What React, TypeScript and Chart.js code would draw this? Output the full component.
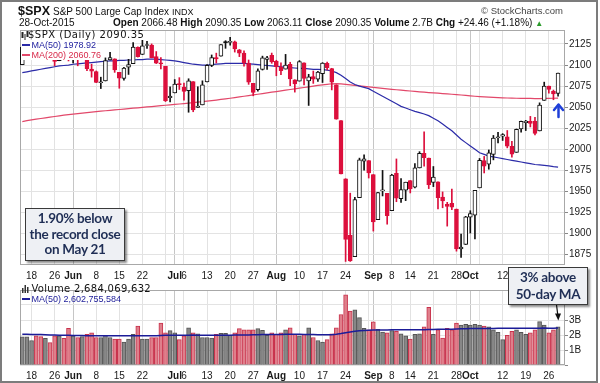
import React, { useEffect, useRef } from 'react';
import { Chart, registerables } from 'chart.js';
Chart.register(...registerables);

const FONT = "'Liberation Sans', Arial, sans-serif";
const VFONT = "'DejaVu Sans', Verdana, sans-serif";

const dates = ['05-14','05-15','05-18','05-19','05-20','05-21','05-22','05-26','05-27','05-28','05-29',
'06-01','06-02','06-03','06-04','06-05','06-08','06-09','06-10','06-11','06-12','06-15','06-16','06-17','06-18','06-19','06-22','06-23','06-24','06-25','06-26','06-29','06-30',
'07-01','07-02','07-06','07-07','07-08','07-09','07-10','07-13','07-14','07-15','07-16','07-17','07-20','07-21','07-22','07-23','07-24','07-27','07-28','07-29','07-30','07-31',
'08-03','08-04','08-05','08-06','08-07','08-10','08-11','08-12','08-13','08-14','08-17','08-18','08-19','08-20','08-21','08-24','08-25','08-26','08-27','08-28','08-31',
'09-01','09-02','09-03','09-04','09-08','09-09','09-10','09-11','09-14','09-15','09-16','09-17','09-18','09-21','09-22','09-23','09-24','09-25','09-28','09-29','09-30',
'10-01','10-02','10-05','10-06','10-07','10-08','10-09','10-12','10-13','10-14','10-15','10-16','10-19','10-20','10-21','10-22','10-23','10-26','10-27','10-28'];

const prevClose = 2098.48;

const opens = [2100.43,2122.07,2121.30,2129.45,2127.79,2125.55,2130.36,2125.34,2105.13,2122.27,2120.66,
2108.64,2110.41,2110.64,2112.35,2095.09,2092.34,2079.07,2081.12,2106.24,2107.43,2091.34,2084.26,2097.40,2101.58,2121.06,2112.50,2123.16,2123.65,2109.96,2102.62,2098.63,2061.19,
2067.00,2078.03,2073.95,2069.52,2080.36,2049.73,2052.74,2080.03,2099.72,2109.01,2110.55,2126.80,2126.85,2127.55,2118.21,2114.16,2102.24,2078.19,2070.75,2094.70,2106.78,2111.60,
2104.49,2097.68,2095.27,2100.75,2082.61,2080.98,2102.66,2081.10,2086.19,2083.15,2089.70,2101.99,2095.69,2076.61,2034.08,1965.15,1898.08,1872.75,1942.77,1986.06,1986.73,
1970.09,1916.52,1950.79,1947.76,1927.30,1971.45,1941.59,1951.45,1963.06,1955.10,1978.02,1995.33,1989.66,1960.84,1961.39,1943.24,1934.81,1935.93,1929.18,1881.90,1887.14,
1919.65,1921.77,1954.33,1986.63,1982.34,1994.01,2013.73,2015.65,2015.00,2003.66,1996.47,2024.37,2031.73,2033.13,2033.47,2021.88,2058.19,2075.08,2068.75,2066.48];

const highs = [2121.45,2123.89,2131.78,2133.02,2134.72,2134.28,2132.15,2125.34,2126.22,2122.27,2120.66,
2119.15,2117.59,2121.92,2112.89,2100.99,2093.01,2085.62,2108.50,2115.02,2107.43,2091.34,2097.40,2106.79,2126.65,2121.64,2129.87,2128.03,2125.10,2116.04,2108.92,2098.63,2074.28,
2082.78,2085.06,2078.61,2083.74,2080.36,2074.28,2081.31,2100.67,2111.98,2114.14,2124.42,2128.91,2132.82,2128.49,2118.51,2116.87,2106.01,2078.19,2095.60,2110.60,2110.48,2114.24,
2105.70,2102.51,2112.66,2103.32,2082.61,2105.35,2102.66,2089.06,2092.93,2092.45,2102.87,2103.47,2096.17,2076.61,2034.08,1965.15,1948.04,1943.09,1989.60,1993.48,1986.73,
1970.09,1948.91,1975.01,1947.76,1970.42,1988.63,1965.29,1961.05,1963.06,1983.19,1997.26,2020.86,1989.66,1979.64,1961.39,1949.52,1937.17,1952.89,1929.18,1899.48,1920.53,
1927.21,1951.36,1989.17,1991.62,1999.31,2016.50,2020.13,2018.66,2022.34,2009.56,2024.15,2033.54,2034.45,2039.12,2037.97,2055.20,2079.74,2075.14,2070.37,2090.35];

const lows = [2100.43,2116.81,2120.01,2124.50,2122.59,2122.95,2126.06,2099.18,2105.13,2112.86,2104.89,
2102.54,2099.14,2109.61,2093.23,2085.67,2079.11,2072.14,2081.12,2106.24,2091.33,2072.49,2082.10,2088.86,2101.58,2109.45,2112.50,2119.89,2108.58,2101.78,2095.38,2056.64,2056.32,
2067.00,2071.02,2058.40,2044.02,2044.62,2049.73,2052.74,2080.03,2098.18,2102.49,2110.55,2119.88,2123.66,2115.40,2110.00,2098.63,2077.09,2063.52,2069.09,2094.08,2094.97,2102.07,
2087.31,2088.60,2095.27,2075.53,2067.91,2080.98,2076.49,2052.09,2078.26,2080.61,2079.30,2094.14,2070.53,2035.73,1970.89,1867.01,1867.08,1872.75,1942.77,1975.19,1965.98,
1903.07,1916.52,1944.72,1911.21,1927.30,1937.88,1937.19,1939.19,1948.27,1954.30,1977.93,1980.08,1953.45,1955.80,1929.22,1930.69,1908.92,1928.54,1879.21,1871.91,1887.14,
1900.70,1893.70,1954.33,1971.99,1976.44,1987.53,2007.61,2010.55,2001.78,1990.73,1996.47,2020.46,2022.31,2026.61,2017.22,2021.88,2058.19,2066.53,2058.84,2063.11];

const closes = [2121.10,2122.73,2129.20,2127.83,2125.85,2130.82,2126.06,2104.20,2123.48,2120.79,2107.39,
2111.73,2109.60,2114.07,2095.84,2092.83,2079.28,2080.15,2105.20,2108.86,2094.11,2084.43,2096.29,2100.44,2121.24,2109.99,2122.85,2124.20,2108.58,2102.31,2101.49,2057.64,2063.11,
2077.42,2076.78,2068.76,2081.34,2046.68,2051.31,2076.62,2099.60,2108.95,2107.40,2124.29,2126.64,2128.28,2119.21,2114.15,2102.15,2079.65,2067.64,2093.25,2108.57,2108.63,2103.84,
2098.04,2093.32,2099.84,2083.56,2077.57,2104.18,2084.07,2086.05,2083.39,2091.54,2102.44,2096.92,2079.61,2035.73,1970.89,1893.21,1867.61,1940.51,1987.66,1988.87,1972.18,
1913.85,1948.86,1951.13,1921.22,1969.41,1942.04,1952.29,1961.05,1953.03,1978.09,1995.31,1990.20,1958.03,1966.97,1942.74,1938.76,1932.24,1931.34,1881.77,1884.09,1920.03,
1923.82,1951.36,1987.05,1979.92,1995.83,2013.43,2014.89,2017.46,2003.69,1994.24,2023.86,2033.11,2033.66,2030.77,2018.94,2052.51,2075.15,2071.18,2065.89,2090.35];

const ma50 = [2091,2092,2093,2094,2095,2096,2097,2098,2099,2099.5,2100,
2101,2101.5,2102,2102.5,2103,2103.5,2104,2104.5,2105,2105,2105.5,2105.5,2106,2106,2106.5,2106.5,2107,2107,2107,2106.5,2106,2105.5,
2105,2104,2103,2102,2101,2100.5,2100,2100,2100.5,2101,2101.5,2102,2102,2102,2102,2102,2101.5,2101,2100.5,2100,2099.5,2099,
2098.5,2098,2097.5,2097,2096.5,2096,2096,2095.5,2095,2095,2094.5,2094,2093,2091,2088,2084,2080,2077,2075,2073.5,2072,
2069,2066,2063,2060,2057,2054,2051,2049,2047,2045,2043.5,2042,2040,2037,2034,2030,2026,2022,2017,2012,2008,
2004,2000,1996,1994,1992,1991,1990,1989,1988,1987,1986,1985,1984,1983,1982,1981.5,1981,1980.5,1979.5,1978.92];

const ma200 = [2033,2034,2035,2035.8,2036.6,2037.4,2038.2,2039,2039.8,2040.5,2041.2,
2041.8,2042.4,2043,2043.6,2044.2,2044.8,2045.3,2045.8,2046.3,2046.8,2047.3,2047.8,2048.3,2048.8,2049.3,2049.8,2050.3,2050.8,2051.3,2051.8,2052.3,2052.8,
2053.3,2053.8,2054.3,2054.8,2055.4,2056,2056.6,2057.2,2057.8,2058.5,2059.2,2059.9,2060.6,2061.4,2062.2,2063,2063.8,2064.6,2065.4,2066.2,2067,2067.8,
2068.6,2069.4,2070.2,2071,2071.8,2072.6,2073.4,2074.2,2075,2075.8,2076.5,2077.2,2077.8,2078,2077.7,2077.2,2076.6,2076,2075.4,2074.8,2074.2,
2073.6,2073,2072.4,2071.8,2071.2,2070.7,2070.2,2069.7,2069.2,2068.7,2068.2,2067.8,2067.4,2067,2066.6,2066.2,2065.8,2065.4,2065,2064.5,2064,
2063.5,2063,2062.6,2062.2,2061.9,2061.6,2061.3,2061.1,2060.9,2060.7,2060.6,2060.5,2060.4,2060.4,2060.3,2060.3,2060.4,2060.5,2060.6,2060.76];

// volume in billions
const volumes = [1.99,1.99,1.73,2.05,2.0,1.88,1.58,2.05,2.05,1.88,2.59,
2.05,1.94,2.0,2.16,2.27,1.94,1.94,2.09,1.94,1.83,1.83,1.62,1.83,2.16,2.74,1.83,1.83,1.94,1.94,2.95,2.27,2.42,
2.27,1.79,2.05,2.63,2.27,2.2,1.94,1.94,1.9,2.16,2.23,2.23,2.09,2.27,2.57,2.48,2.48,2.48,2.57,2.45,2.09,2.27,
2.16,2.27,2.48,2.63,2.16,2.05,2.16,2.63,1.94,1.73,1.62,1.79,2.2,2.63,3.56,4.95,3.81,3.9,3.34,2.59,2.48,
3.05,2.52,2.33,2.27,2.42,2.37,2.2,2.05,1.83,2.16,2.2,2.7,4.07,2.16,2.48,1.9,2.59,2.48,2.96,2.81,2.87,
2.81,2.87,2.81,2.74,2.7,2.48,2.31,1.79,2.09,2.37,2.48,2.31,2.16,2.27,2.48,3.06,2.81,2.27,2.48,2.684];

const volMa50 = [2.17,2.17,2.16,2.16,2.15,2.14,2.12,2.11,2.1,2.09,2.09,
2.08,2.08,2.08,2.07,2.07,2.07,2.07,2.06,2.06,2.06,2.06,2.06,2.06,2.06,2.07,2.07,2.07,2.07,2.07,2.08,2.09,2.1,
2.1,2.1,2.1,2.1,2.11,2.1,2.1,2.1,2.1,2.1,2.1,2.1,2.1,2.11,2.11,2.12,2.12,2.13,2.14,2.15,2.15,2.16,
2.16,2.16,2.17,2.17,2.17,2.17,2.16,2.16,2.15,2.14,2.13,2.13,2.14,2.17,2.22,2.28,2.33,2.38,2.42,2.44,2.45,
2.46,2.47,2.47,2.47,2.48,2.48,2.48,2.48,2.48,2.48,2.48,2.49,2.51,2.51,2.52,2.52,2.53,2.53,2.54,2.55,2.56,
2.57,2.57,2.58,2.58,2.58,2.58,2.59,2.59,2.59,2.59,2.59,2.6,2.6,2.6,2.6,2.6,2.61,2.6,2.6,2.603];

const tickIndex = [2,7,11,16,21,26,31,33,35,40,45,50,55,60,65,70,75,76,80,84,89,94,97,99,104,109,114];
const tickText = ['18','26','Jun','8','15','22','','Jul','6','13','20','27','Aug','10','17','24','','Sep','8','14','21','28','Oct','','12','19','26'];
const monthTickIndex = [11,33,55,76,97];
const volumeTickLabels = ['1B','2B','3B'];

const labelAt = (i: number) => {
  const k = tickIndex.indexOf(i);
  return k >= 0 ? tickText[k] : '';
};
const gridAt = (i: number) => {
  if (monthTickIndex.includes(i)) return '#c6c6c6';
  if (tickIndex.includes(i)) return '#e2e2e2';
  return 'rgba(0,0,0,0)';
};

const framePlugin = {
  id: 'frame',
  beforeDatasetsDraw(chart: any) {
    const { ctx, chartArea } = chart;
    const { left, top, right, bottom } = chartArea;
    ctx.save();
    ctx.strokeStyle = '#a8a8a8';
    ctx.lineWidth = 1;
    ctx.strokeRect(Math.round(left) + 0.5, Math.round(top) + 0.5, Math.round(right - left) - 1, Math.round(bottom - top) - 1);
    ctx.restore();
  },
};

function xAxis(): any {
  return {
    type: 'category',
    offset: true,
    grid: { offset: false, drawTicks: false, lineWidth: 1, color: (c: any) => gridAt(c.index) },
    border: { display: false },
    ticks: {
      autoSkip: false, maxRotation: 0, minRotation: 0, padding: 5, color: '#1a1a1a',
      font: (c: any) => ({ family: FONT, size: 10, weight: monthTickIndex.includes(c.index) ? 'bold' : 'normal' }),
      callback: (_v: any, i: number) => labelAt(i),
    },
    afterFit: (s: any) => { s.height = 18; },
  };
}

export default function App() {
  const priceRef = useRef<HTMLCanvasElement>(null);
  const volRef = useRef<HTMLCanvasElement>(null);

  useEffect(() => {
    const labels = [...dates, ''];
    const prevs = closes.map((_c, i) => (i === 0 ? prevClose : closes[i - 1]));
    const color = closes.map((c, i) => (c >= prevs[i] ? '#111111' : '#dc0f3c'));
    const fill = closes.map((c, i) => (c > opens[i] ? '#ffffff' : color[i]));
    const volFill = closes.map((c, i) => (c >= prevs[i] ? '#878787' : '#df7f8b'));
    const volBorder = closes.map((c, i) => (c >= prevs[i] ? '#555555' : '#c8324c'));

    const price = new Chart(priceRef.current as HTMLCanvasElement, {
      type: 'bar',
      data: {
        labels,
        datasets: [
          { type: 'bar', data: opens.map((o, i) => [o, closes[i]]), backgroundColor: fill, borderColor: color, borderWidth: 1, borderSkipped: false, barThickness: 4, grouped: false, minBarLength: 1, order: 1 } as any,
          { type: 'bar', data: lows.map((l, i) => [l, highs[i]]), backgroundColor: color, borderWidth: 0, barThickness: 1, grouped: false, order: 2 } as any,
          { type: 'line', data: ma50, borderColor: '#2b2ba8', borderWidth: 1.2, pointRadius: 0, order: 3 } as any,
          { type: 'line', data: ma200, borderColor: '#e2486a', borderWidth: 1.2, pointRadius: 0, order: 4 } as any,
        ],
      },
      options: {
        animation: false, responsive: false, maintainAspectRatio: false,
        layout: { padding: { top: 30, left: 20, right: 0, bottom: 0 }, autoPadding: false },
        plugins: { legend: { display: false }, tooltip: { enabled: false } },
        scales: {
          x: xAxis(),
          y: {
            position: 'right', min: 1862.8, max: 2141.6,
            grid: { color: '#e3e3e3', tickLength: 3, tickColor: '#888', drawTicks: true },
            border: { display: false },
            ticks: { stepSize: 25, includeBounds: false, padding: 1, color: '#1a1a1a', font: { family: FONT, size: 10 }, callback: (v: any) => String(v) },
            afterFit: (s: any) => { s.width = 35; },
          } as any,
        },
      },
      plugins: [framePlugin],
    });

    const vol = new Chart(volRef.current as HTMLCanvasElement, {
      type: 'bar',
      data: {
        labels,
        datasets: [
          { type: 'bar', data: volumes.map((v) => v * 1e9), backgroundColor: volFill, borderColor: volBorder, borderWidth: 1, barThickness: 4, order: 2 } as any,
          { type: 'line', data: volMa50.map((v) => v * 1e9), borderColor: '#1c1c98', borderWidth: 1.5, pointRadius: 0, order: 1 } as any,
        ],
      },
      options: {
        animation: false, responsive: false, maintainAspectRatio: false,
        layout: { padding: { top: 0, left: 20, right: 0, bottom: 0 }, autoPadding: false },
        plugins: { legend: { display: false }, tooltip: { enabled: false } },
        scales: {
          x: xAxis(),
          y: {
            position: 'right', min: 0, max: 5.29e9,
            grid: { color: '#e3e3e3', tickLength: 3, tickColor: '#888', drawTicks: true },
            border: { display: false },
            ticks: {
              stepSize: 1e9, includeBounds: false, padding: 1, color: '#1a1a1a', font: { family: FONT, size: 10 },
              callback: (v: any) => { const k = Math.round(v / 1e9); return k >= 1 && k <= 3 ? volumeTickLabels[k - 1] : ''; },
            },
            afterFit: (s: any) => { s.width = 35; },
          } as any,
        },
      },
      plugins: [framePlugin],
    });

    return () => { price.destroy(); vol.destroy(); };
  }, []);

  const abs = (o: any) => ({ position: 'absolute', whiteSpace: 'nowrap', lineHeight: 1, ...o });
  const boxStyle = {
    position: 'absolute', background: '#eef0f4', border: '1px solid #3a3a3a', boxShadow: '2px 2px 2px rgba(0,0,0,0.45)',
    display: 'flex', flexDirection: 'column', alignItems: 'center', justifyContent: 'center',
    fontFamily: "Lato, 'Open Sans', sans-serif", fontWeight: 700, fontSize: 13.5, letterSpacing: -0.3, color: '#1f2e55', boxSizing: 'border-box',
  } as any;

  return (
    <div style={{ position: 'absolute', left: 0, top: 0, width: 600, height: 383, background: '#fff', overflow: 'hidden', fontFamily: FONT, color: '#111' }}>
      <canvas ref={priceRef} width={600} height={283} style={{ position: 'absolute', left: 0, top: 0 }} />
      <canvas ref={volRef} width={600} height={100} style={{ position: 'absolute', left: 0, top: 283 }} />

      {/* header */}
      <div style={abs({ left: 18, top: 5, fontSize: 12.5, fontWeight: 700 })}>$SPX</div>
      <div style={abs({ left: 53, top: 6.6, fontSize: 10 })}>S&amp;P 500 Large Cap Index</div>
      <div style={abs({ left: 172, top: 7.6, fontSize: 9 })}>INDX</div>
      <div style={abs({ right: 37, top: 6, fontSize: 9.5, color: '#444' })}>© StockCharts.com</div>
      <div style={abs({ left: 19, top: 17.5, fontSize: 10 })}>28-Oct-2015</div>
      <div style={abs({ left: 113, top: 17.5, fontSize: 10 })}>
        <b>Open</b> 2066.48 <b>High</b> 2090.35 <b>Low</b> 2063.11 <b>Close</b> 2090.35 <b>Volume</b> 2.7B <b>Chg</b> +24.46 (+1.18%) <span style={{ color: '#2a9a2a', fontSize: 8 }}>▲</span>
      </div>

      {/* price legend */}
      <div style={{ position: 'absolute', left: 21, top: 31, width: 125, height: 9, background: '#fff' }} />
      <div style={{ position: 'absolute', left: 21, top: 40, width: 76, height: 10, background: '#fff' }} />
      <div style={{ position: 'absolute', left: 21, top: 50, width: 81, height: 10, background: '#fff' }} />
      <svg width={8} height={9} style={{ position: 'absolute', left: 21, top: 31 }}>
        <rect x={0.5} y={1} width={2} height={6} fill="#222" />
        <rect x={3.5} y={3} width={1} height={6} fill="#222" />
        <rect x={5.5} y={0} width={2} height={6} fill="#222" />
      </svg>
      <div style={abs({ left: 28, top: 29.8, fontSize: 10, fontFamily: VFONT, letterSpacing: 0.5 })}>$SPX (Daily) 2090.35</div>
      <div style={{ position: 'absolute', left: 22, top: 44, width: 8, height: 2, background: '#2b2ba8' }} />
      <div style={abs({ left: 31.5, top: 40.7, fontSize: 9, color: '#2323a0' })}>MA(50) 1978.92</div>
      <div style={{ position: 'absolute', left: 22, top: 54, width: 8, height: 2, background: '#e2486a' }} />
      <div style={abs({ left: 31.5, top: 50.7, fontSize: 9, color: '#d82a4a' })}>MA(200) 2060.76</div>

      {/* volume legend */}
      <svg width={8} height={9} style={{ position: 'absolute', left: 22, top: 284 }}>
        <rect x={0} y={4} width={1.5} height={5} fill="#333" />
        <rect x={2.5} y={1} width={1.5} height={8} fill="#333" />
        <rect x={5} y={3} width={1.5} height={6} fill="#333" />
      </svg>
      <div style={abs({ left: 31.5, top: 283.5, fontSize: 10, fontFamily: VFONT, letterSpacing: 0.3 })}>Volume 2,684,069,632</div>
      <div style={{ position: 'absolute', left: 22, top: 298, width: 8, height: 2, background: '#1c1c98' }} />
      <div style={abs({ left: 31.5, top: 294.7, fontSize: 9, color: '#1c1c98' })}>MA(50) 2,602,755,584</div>

      {/* annotations */}
      <div style={{ ...boxStyle, left: 25, top: 208, width: 100, height: 53, lineHeight: '15.5px' }}>
        <div>1.90% below</div>
        <div>the record close</div>
        <div>on May 21</div>
      </div>
      <div style={{ ...boxStyle, left: 508, top: 267, width: 80, height: 38, lineHeight: '17px' }}>
        <div>3% above</div>
        <div>50-day MA</div>
      </div>

      <svg width={600} height={383} style={{ position: 'absolute', left: 0, top: 0 }}>
        <g stroke="#1f3fd8" strokeWidth={2.5} fill="none" strokeLinecap="round" strokeLinejoin="round">
          <line x1={558.5} y1={105} x2={558.5} y2={117} />
          <polyline points="554,110 558.5,104.5 563,110" />
        </g>
        <line x1={556.5} y1={305} x2={557.8} y2={315} stroke="#111" strokeWidth={1.2} />
        <polygon points="555,313.5 561,313.5 558.3,320.5" fill="#111" />
      </svg>

      <div style={{ position: 'absolute', left: 0, top: 0, width: 598, height: 383, boxSizing: 'border-box', border: '2px solid #7c7c7c', pointerEvents: 'none' }} />
    </div>
  );
}
